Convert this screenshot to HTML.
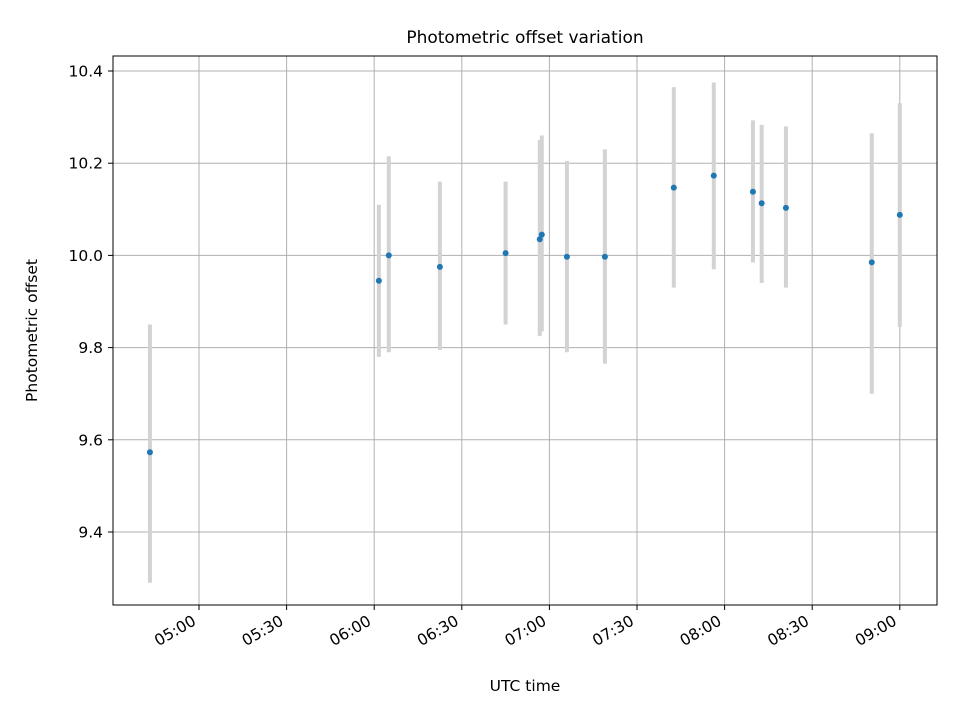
<!DOCTYPE html>
<html><head><meta charset="utf-8"><style>
body{margin:0;background:#fff;}
svg text{font-family:"DejaVu Sans","Liberation Sans",sans-serif;fill:#000;}
</style></head><body>
<svg id="chart" width="960" height="720" xmlns="http://www.w3.org/2000/svg">
<rect width="960" height="720" fill="#fff"/>
<g id="grid"></g><g id="bars"></g><g id="pts"></g><g id="axes"></g>
</svg>
<script>
// minutes since midnight UTC
const times=[283.2,361.6,365,382.5,405,416.7,417.4,426,439,462.6,476.3,489.7,492.7,501,530.4,540];
const values=[9.573,9.945,10.0,9.975,10.005,10.035,10.045,9.997,9.997,10.147,10.173,10.138,10.113,10.103,9.985,10.088];
const errLow=[9.29,9.78,9.79,9.795,9.85,9.825,9.835,9.79,9.765,9.93,9.97,9.985,9.94,9.93,9.70,9.845];
const errHigh=[9.85,10.11,10.215,10.16,10.16,10.25,10.26,10.205,10.23,10.365,10.375,10.293,10.283,10.28,10.265,10.33];
const yTicks=[9.4,9.6,9.8,10.0,10.2,10.4];
const xTicks=[300,330,360,390,420,450,480,510,540];
const xTickLabels=["05:00","05:30","06:00","06:30","07:00","07:30","08:00","08:30","09:00"];

const L=113,R=937,T=56,B=605;
const X=m=>199+(m-300)*(87.6/30);
const Y=v=>532-(v-9.4)*461;
const NS="http://www.w3.org/2000/svg";
function mk(tag,attrs,parent){const e=document.createElementNS(NS,tag);for(const k in attrs)e.setAttribute(k,attrs[k]);document.getElementById(parent).appendChild(e);return e;}

xTicks.forEach((t,i)=>{
  const x=X(t);
  const g=mk('line',{x1:x,x2:x,y1:T,y2:B,stroke:'#b0b0b0','stroke-width':1},'grid');
  
  
  const tk=mk('line',{x1:x,x2:x,y1:B,y2:B+5,stroke:'#000','stroke-width':1},'axes');
  
  
  const ax=x-2, ay=B+19;
  const tx=mk('text',{x:ax,y:ay,'font-size':15.5,'text-anchor':'end',transform:`rotate(-30 ${ax} ${ay})`},'axes');
  tx.textContent=xTickLabels[i];
  
  
});
yTicks.forEach(v=>{
  const y=Y(v);
  const g=mk('line',{x1:L,x2:R,y1:y,y2:y,stroke:'#b0b0b0','stroke-width':1},'grid');
  
  
  const tk=mk('line',{x1:L-5,x2:L,y1:y,y2:y,stroke:'#000','stroke-width':1},'axes');
  
  
  const tx=mk('text',{x:L-10,y:y+5.5,'font-size':15.5,'text-anchor':'end'},'axes');
  tx.textContent=v.toFixed(1);
  
  
});
times.forEach((t,i)=>{
  const x=X(t);
  const b=mk('line',{x1:x,x2:x,y1:Y(errLow[i]),y2:Y(errHigh[i]),stroke:'#d3d3d3','stroke-width':4},'bars');
  
  
  const p=mk('circle',{cx:x,cy:Y(values[i]),r:3,fill:'#1f77b4'},'pts');
  
  
});
const fr=mk('rect',{x:L,y:T,width:R-L,height:B-T,fill:'none',stroke:'#000','stroke-width':1},'axes');


const ti=mk('text',{x:(L+R)/2,y:43,'font-size':17,'text-anchor':'middle'},'axes');
ti.textContent='Photometric offset variation';


const xl=mk('text',{x:(L+R)/2,y:691,'font-size':15.5,'text-anchor':'middle'},'axes');
xl.textContent='UTC time';


const yl=mk('text',{x:37,y:(T+B)/2,'font-size':15.5,'text-anchor':'middle',transform:`rotate(-90 37 ${(T+B)/2})`},'axes');
yl.textContent='Photometric offset';


</script>
</body></html>
